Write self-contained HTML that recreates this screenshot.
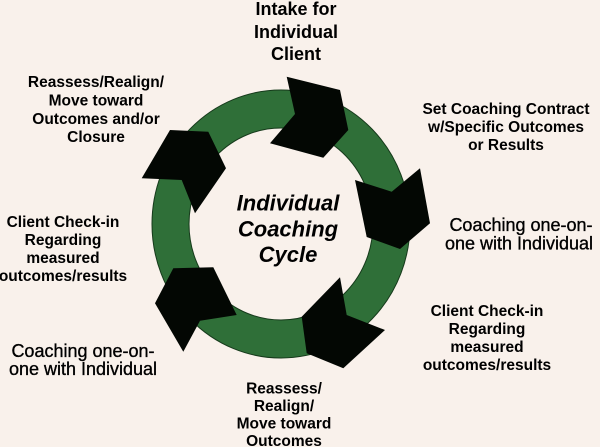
<!DOCTYPE html>
<html>
<head>
<meta charset="utf-8">
<style>
  html, body { margin: 0; padding: 0; background: #f9f1eb; }
  body { width: 600px; height: 447px; overflow: hidden; }
  svg { display: block; }
  .b { font-family: "Liberation Sans", Arial, sans-serif; font-weight: bold; font-size: 15.5px; fill: #000; }
  .r { font-family: "Liberation Sans", Arial, sans-serif; font-weight: normal; font-size: 18px; fill: #000; stroke: #000; stroke-width: 0.35px; }
  .t { font-family: "Liberation Sans", Arial, sans-serif; font-weight: bold; font-size: 18px; fill: #000; }
  .c { font-family: "Liberation Sans", Arial, sans-serif; font-weight: bold; font-style: italic; font-size: 22px; fill: #000; }
</style>
</head>
<body>
<svg width="600" height="447" viewBox="0 0 600 447" xmlns="http://www.w3.org/2000/svg">
  <rect x="0" y="0" width="600" height="447" fill="#f9f1eb"/>

  <!-- ring -->
  <path fill="#2f6f38" stroke="#163a1b" stroke-width="1" fill-rule="evenodd"
        d="M152,224 a129,134 0 1,0 258,0 a129,134 0 1,0 -258,0 Z
           M189,224 a92,96 0 1,0 184,0 a92,96 0 1,0 -184,0 Z"/>

  <!-- arrows -->
  <g fill="#030703">
    <polygon points="286.7,76.7 340,90 348.3,130 323.3,157.7 270,143.3 295,114"/>
    <polygon points="355,180 391.7,191.7 420,168.3 430,223.3 400,249 366.7,237"/>
    <polygon points="340,277.3 346.7,315 385,330 343.3,368.3 306.7,353.3 301.7,316.7"/>
    <polygon points="173.3,268.3 213.3,267.3 236.7,315 200,320.7 183.3,351.7 155,303.3"/>
    <polygon points="141.7,178.3 170,130 208.3,131.7 226,168.3 195,213.3 181.7,180"/>
  </g>

  <!-- top label -->
  <g text-anchor="middle">
    <text class="t" x="296" y="15">Intake for</text>
    <text class="t" x="296" y="38">Individual</text>
    <text class="t" x="296" y="60">Client</text>
  </g>

  <!-- top-left label -->
  <g text-anchor="middle">
    <text class="b" x="96" y="87">Reassess/Realign/</text>
    <text class="b" x="96" y="105.5">Move toward</text>
    <text class="b" x="96" y="124">Outcomes and/or</text>
    <text class="b" x="96" y="142">Closure</text>
  </g>

  <!-- top-right label -->
  <g text-anchor="middle">
    <text class="b" x="506" y="114">Set Coaching Contract</text>
    <text class="b" x="506" y="132">w/Specific Outcomes</text>
    <text class="b" x="506" y="150">or Results</text>
  </g>

  <!-- right label -->
  <g text-anchor="middle">
    <text class="r" x="521" y="231">Coaching one-on-</text>
    <text class="r" x="519" y="249.5">one with Individual</text>
  </g>

  <!-- left label -->
  <g text-anchor="middle">
    <text class="b" x="63" y="227">Client Check-in</text>
    <text class="b" x="63" y="245">Regarding</text>
    <text class="b" x="63" y="263">measured</text>
    <text class="b" x="63" y="281">outcomes/results</text>
  </g>

  <!-- bottom-left label -->
  <g text-anchor="middle">
    <text class="r" x="83" y="357">Coaching one-on-</text>
    <text class="r" x="83" y="375">one with Individual</text>
  </g>

  <!-- bottom-right label -->
  <g text-anchor="middle">
    <text class="b" x="487" y="316">Client Check-in</text>
    <text class="b" x="487" y="334">Regarding</text>
    <text class="b" x="487" y="352">measured</text>
    <text class="b" x="487" y="370">outcomes/results</text>
  </g>

  <!-- bottom label -->
  <g text-anchor="middle">
    <text class="b" x="284" y="393.5">Reassess/</text>
    <text class="b" x="284" y="411">Realign/</text>
    <text class="b" x="284" y="428.5">Move toward</text>
    <text class="b" x="284" y="446">Outcomes</text>
  </g>

  <!-- center label -->
  <g text-anchor="middle">
    <text class="c" x="288" y="210.5">Individual</text>
    <text class="c" x="288" y="236.5">Coaching</text>
    <text class="c" x="288" y="262">Cycle</text>
  </g>
</svg>
</body>
</html>
